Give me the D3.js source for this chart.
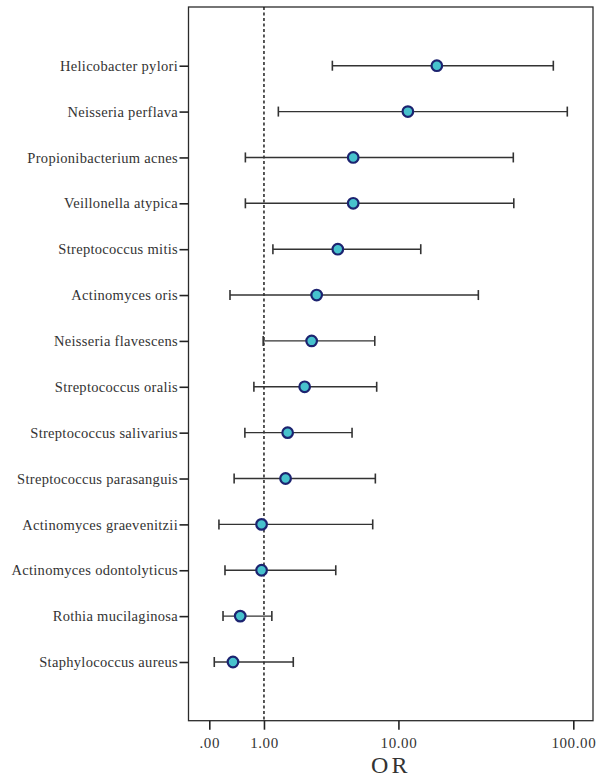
<!DOCTYPE html>
<html><head><meta charset="utf-8">
<script src="https://cdn.jsdelivr.net/npm/d3@7"></script>
<style>body{margin:0;background:#fff}</style>
</head><body>
<svg id="c" width="600" height="782"></svg>
<script>
const categories = ["Helicobacter pylori","Neisseria perflava","Propionibacterium acnes","Veillonella atypica","Streptococcus mitis","Actinomyces oris","Neisseria flavescens","Streptococcus oralis","Streptococcus salivarius","Streptococcus parasanguis","Actinomyces graevenitzii","Actinomyces odontolyticus","Rothia mucilaginosa","Staphylococcus aureus"];
const orValues = [16.9, 11.4, 5.2, 5.2, 4.1, 2.9, 2.66, 2.35, 1.70, 1.63, 0.94, 0.94, 0.48, 0.35];
const lowerCI = [3.76, 1.40, 0.58, 0.58, 1.24, 0.30, 0.98, 0.76, 0.57, 0.37, 0.13, 0.22, 0.19, 0.065];
const upperCI = [77.4, 92.6, 46.2, 46.5, 13.6, 29.3, 7.15, 7.35, 5.11, 7.21, 6.94, 3.97, 1.21, 1.90];
const tickValues = [0, 1, 10, 100];
const tickLabels = [".00", "1.00", "10.00", "100.00"];
const refValue = 1;
const axisTitle = "OR";

const svg = d3.select("#c");
const frame = {left: 188.5, right: 593, top: 7, bottom: 720.7};

const x = d3.scaleSymlog().constant(1).domain([0, 100]).range([209.3, 573.3]);
const y = d3.scalePoint().domain(categories).range([frame.top, frame.bottom]).padding(1.28);

const data = categories.map((c, i) => ({c, or: orValues[i], lo: lowerCI[i], hi: upperCI[i]}));

// frame
svg.append("rect").attr("x", frame.left).attr("y", frame.top)
  .attr("width", frame.right - frame.left).attr("height", frame.bottom - frame.top)
  .attr("fill", "none").attr("stroke", "#2b2b2b").attr("stroke-width", 1.3);

// reference line
svg.append("line").attr("x1", x(refValue)).attr("x2", x(refValue))
  .attr("y1", frame.top).attr("y2", frame.bottom)
  .attr("stroke", "#111").attr("stroke-width", 1.4).attr("stroke-dasharray", "3,2.5");

// x axis
const xAxis = d3.axisBottom(x).tickValues(tickValues).tickFormat((d, i) => tickLabels[i]).tickSize(9).tickSizeOuter(0);
const gx = svg.append("g").attr("transform", `translate(0,${frame.bottom})`).call(xAxis);
gx.select(".domain").remove();
gx.selectAll(".tick line").attr("stroke", "#222").attr("stroke-width", 1.6);
gx.selectAll(".tick text").attr("fill", "#333").attr("font-family", "Liberation Serif, serif")
  .attr("font-size", 15).attr("letter-spacing", "0.6px").attr("dy", "1.0em");

// y axis
const yAxis = d3.axisLeft(y).tickSize(9).tickSizeOuter(0);
const gy = svg.append("g").attr("transform", `translate(${frame.left},0)`).call(yAxis);
gy.select(".domain").remove();
gy.selectAll(".tick line").attr("stroke", "#222").attr("stroke-width", 1.6);
gy.selectAll(".tick text").attr("fill", "#333").attr("font-family", "Liberation Serif, serif")
  .attr("font-size", 14.5).attr("letter-spacing", "0.3px").attr("x", -10.5);

// axis title
svg.append("text").attr("x", (frame.left + frame.right) / 2).attr("y", 773)
  .attr("text-anchor", "middle").attr("font-family", "Liberation Serif, serif")
  .attr("font-size", 24).attr("letter-spacing", "3px").attr("fill", "#333").text(axisTitle);

// error bars
const g = svg.append("g");
const rows = g.selectAll("g.row").data(data).join("g").attr("class", "row");
rows.append("line").attr("x1", d => x(d.lo)).attr("x2", d => x(d.hi))
  .attr("y1", d => y(d.c)).attr("y2", d => y(d.c)).attr("stroke", "#333").attr("stroke-width", 1.4);
rows.append("line").attr("x1", d => x(d.lo)).attr("x2", d => x(d.lo))
  .attr("y1", d => y(d.c) - 5).attr("y2", d => y(d.c) + 5).attr("stroke", "#333").attr("stroke-width", 1.6);
rows.append("line").attr("x1", d => x(d.hi)).attr("x2", d => x(d.hi))
  .attr("y1", d => y(d.c) - 5).attr("y2", d => y(d.c) + 5).attr("stroke", "#333").attr("stroke-width", 1.6);
rows.append("circle").attr("cx", d => x(d.or)).attr("cy", d => y(d.c)).attr("r", 5.3)
  .attr("fill", "#47c2cd").attr("stroke", "#1c2370").attr("stroke-width", 2.2);
</script>
</body></html>
